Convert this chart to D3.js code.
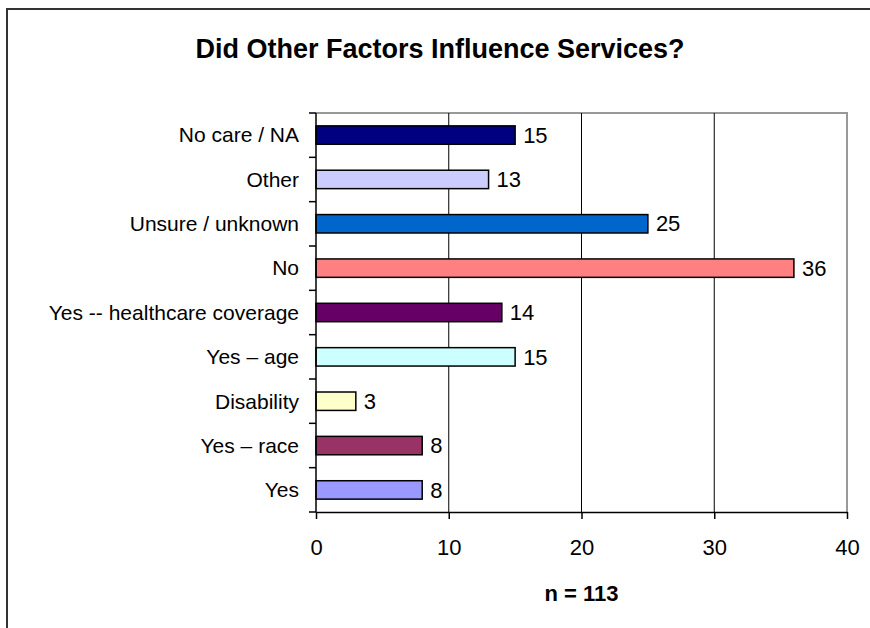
<!DOCTYPE html>
<html>
<head>
<meta charset="utf-8">
<script src="https://cdn.jsdelivr.net/npm/d3@7"></script>
<style>
  body { margin: 0; background: #fff; }
  text { font-family: Arial, "Liberation Sans", sans-serif; }
</style>
</head>
<body>
<svg width="870" height="628"></svg>
<script>
// categories top to bottom, as drawn
var categories = ["No care / NA", "Other", "Unsure / unknown", "No",
    "Yes -- healthcare coverage", "Yes \u2013 age", "Disability", "Yes \u2013 race", "Yes"];
var counts = [15, 13, 25, 36, 14, 15, 3, 8, 8];
var barColors = ["#000080", "#CCCCFF", "#0066CC", "#FF8080", "#660066",
    "#CCFFFF", "#FFFFCC", "#993366", "#9999FF"];
var xTicks = [0, 10, 20, 30, 40];

var svg = d3.select("svg"),
    pLeft = 316, pRight = 847, pTop = 113, pBottom = 512;

// outer chart frame (cropped on right and bottom)
svg.append("path")
    .attr("d", "M7,640 L7,9 L880,9")
    .attr("fill", "none")
    .attr("stroke", "#333")
    .attr("stroke-width", 2);

svg.append("text")
    .attr("x", 440)
    .attr("y", 58)
    .attr("text-anchor", "middle")
    .style("font-weight", "bold")
    .style("font-size", "27px")
    .text("Did Other Factors Influence Services?");

var x = d3.scaleLinear().domain([0, 40]).range([pLeft, pRight]);
var y = d3.scaleBand().domain(categories).range([pTop, pBottom]).paddingInner(0.585).paddingOuter(0.29);

// plot area border (gray top / right)
svg.append("path")
    .attr("d", "M" + pLeft + "," + pTop + "L" + pRight + "," + pTop + "L" + pRight + "," + pBottom)
    .attr("fill", "none")
    .attr("stroke", "#999")
    .attr("stroke-width", 2);

// gridlines
svg.selectAll(".grid")
    .data(xTicks.slice(1, -1))
    .enter()
    .append("line")
    .attr("class", "grid")
    .attr("x1", function (d) { return x(d); })
    .attr("x2", function (d) { return x(d); })
    .attr("y1", pTop)
    .attr("y2", pBottom)
    .attr("stroke", "#000")
    .attr("stroke-width", 1);

svg.selectAll(".bar")
    .data(counts)
    .enter()
    .append("rect")
    .attr("class", "bar")
    .attr("x", x(0))
    .attr("y", function (d, i) { return y(categories[i]); })
    .attr("width", function (d) { return x(d) - x(0); })
    .attr("height", y.bandwidth())
    .attr("fill", function (d, i) { return barColors[i]; })
    .attr("stroke", "#000")
    .attr("stroke-width", 1.5);

svg.selectAll(".val")
    .data(counts)
    .enter()
    .append("text")
    .attr("class", "val")
    .attr("x", function (d) { return x(d) + 8; })
    .attr("y", function (d, i) { return y(categories[i]) + y.bandwidth() / 2; })
    .attr("dy", "0.35em")
    .style("font-size", "22px")
    .text(function (d) { return d; });

// y axis: ticks between categories, outside
var yTickPos = d3.range(categories.length + 1).map(function (i) {
    return pTop + i * (pBottom - pTop) / categories.length;
});
svg.append("line")
    .attr("x1", pLeft).attr("x2", pLeft)
    .attr("y1", pTop).attr("y2", pBottom)
    .attr("stroke", "#000").attr("stroke-width", 1.5);
svg.selectAll(".ytick")
    .data(yTickPos)
    .enter()
    .append("line")
    .attr("class", "ytick")
    .attr("x1", pLeft - 7).attr("x2", pLeft)
    .attr("y1", function (d) { return d; })
    .attr("y2", function (d) { return d; })
    .attr("stroke", "#000").attr("stroke-width", 1.5);

svg.selectAll(".ylab")
    .data(categories)
    .enter()
    .append("text")
    .attr("class", "ylab")
    .attr("x", 299)
    .attr("y", function (d) { return y(d) + y.bandwidth() / 2; })
    .attr("dy", "0.35em")
    .attr("text-anchor", "end")
    .style("font-size", "21px")
    .text(function (d) { return d; });

// x axis
var xAxis = svg.append("g")
    .attr("transform", "translate(0," + pBottom + ")")
    .call(d3.axisBottom(x).tickValues(xTicks).tickSize(7).tickPadding(20).tickSizeOuter(0));
xAxis.select(".domain").attr("stroke", "#000").attr("stroke-width", 1.5);
xAxis.selectAll(".tick line").attr("stroke-width", 1.5);
xAxis.selectAll(".tick text")
    .style("font-size", "22px")
    .style("font-family", "Arial, 'Liberation Sans', sans-serif")
    .attr("fill", "#000");

svg.append("text")
    .attr("x", (pLeft + pRight) / 2)
    .attr("y", 593)
    .attr("dy", "0.35em")
    .attr("text-anchor", "middle")
    .style("font-weight", "bold")
    .style("font-size", "22px")
    .text("n = 113");
</script>
</body>
</html>
